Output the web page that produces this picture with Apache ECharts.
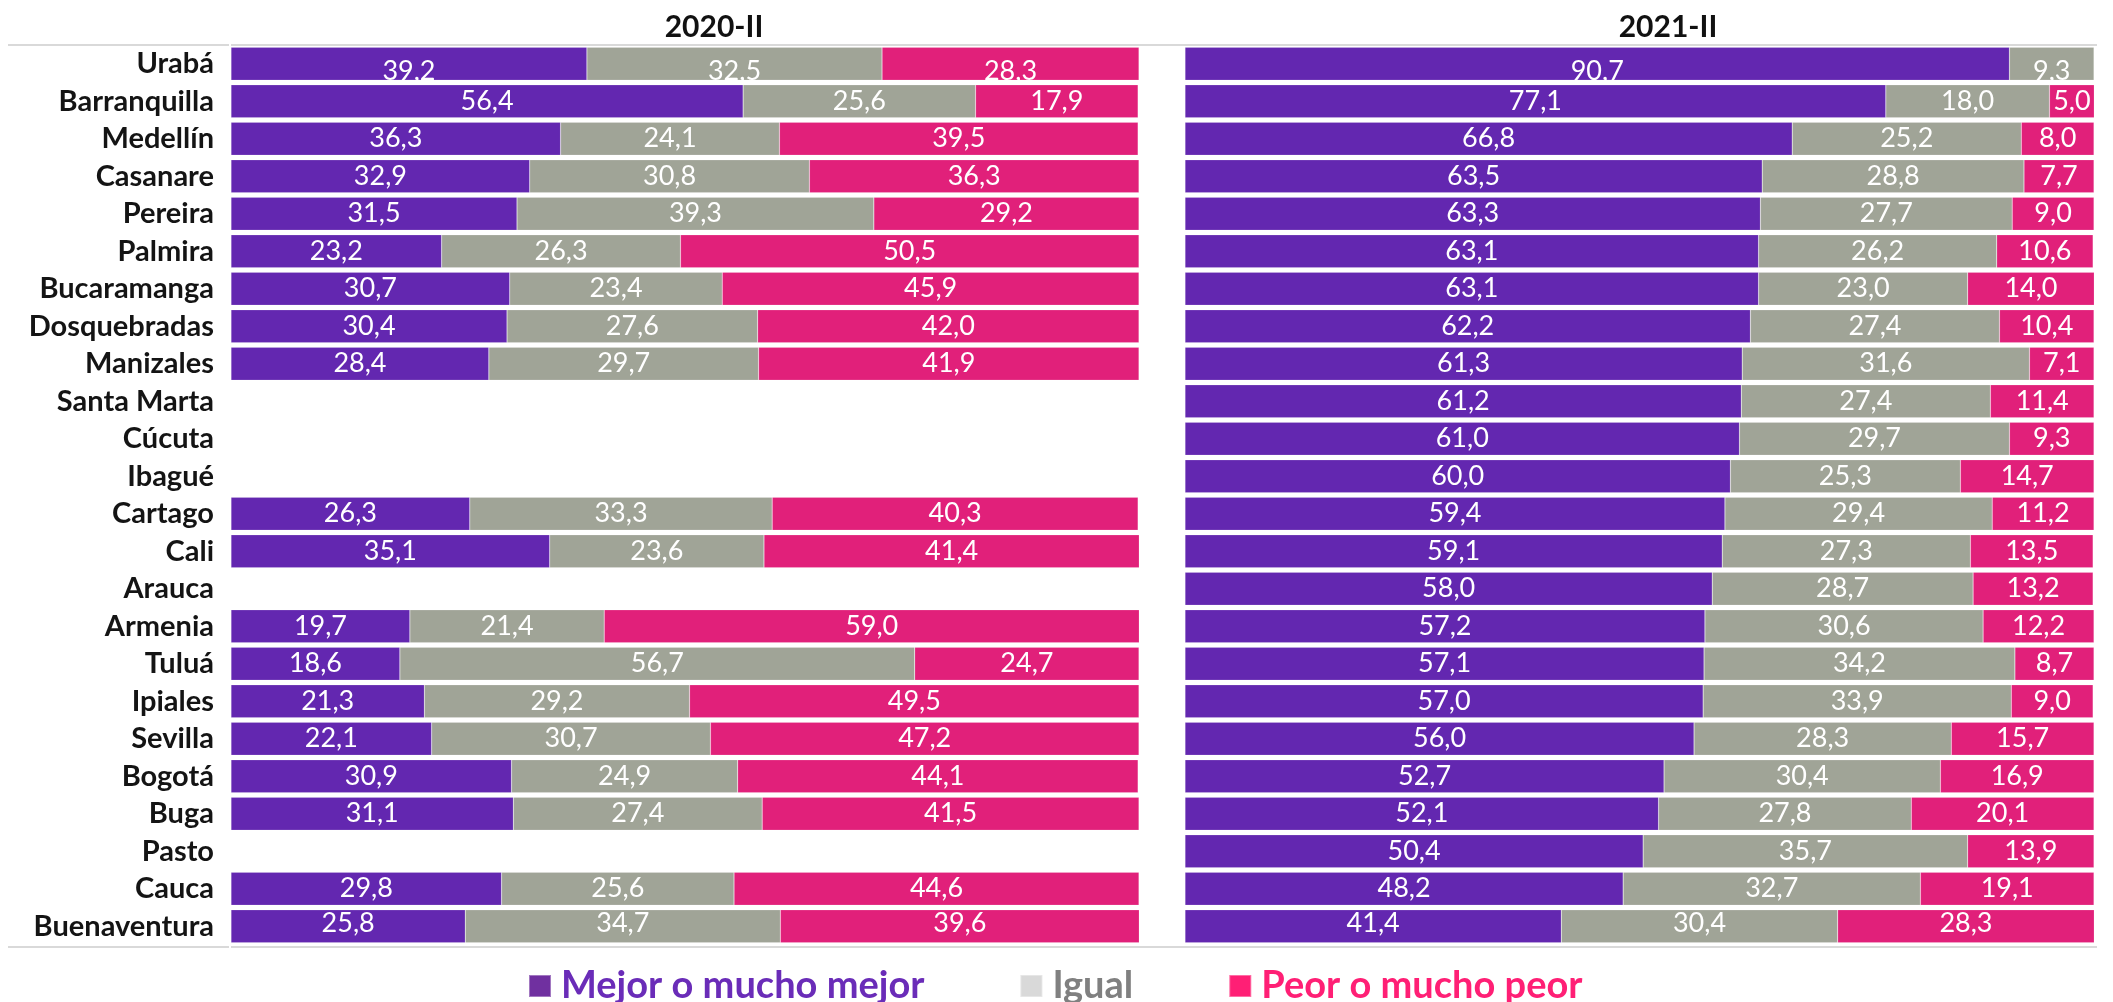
<!DOCTYPE html>
<html>
<head>
<meta charset="utf-8">
<script src="https://cdn.jsdelivr.net/npm/echarts@6/dist/echarts.min.js"></script>
<style>
html,body{margin:0;padding:0;background:#fff;}
#chart{width:2113px;height:1002px;}
</style>
</head>
<body>
<div id="chart"></div>
<script>
const categories = ['Urabá','Barranquilla','Medellín','Casanare','Pereira','Palmira','Bucaramanga','Dosquebradas','Manizales','Santa Marta','Cúcuta','Ibagué','Cartago','Cali','Arauca','Armenia','Tuluá','Ipiales','Sevilla','Bogotá','Buga','Pasto','Cauca','Buenaventura'];
const panelTitles = ['2020-II','2021-II'];
const seriesNames = ['Mejor o mucho mejor','Igual','Peor o mucho peor'];

const mejor2020 = [39.2,56.4,36.3,32.9,31.5,23.2,30.7,30.4,28.4,null,null,null,26.3,35.1,null,19.7,18.6,21.3,22.1,30.9,31.1,null,29.8,25.8];
const igual2020 = [32.5,25.6,24.1,30.8,39.3,26.3,23.4,27.6,29.7,null,null,null,33.3,23.6,null,21.4,56.7,29.2,30.7,24.9,27.4,null,25.6,34.7];
const peor2020  = [28.3,17.9,39.5,36.3,29.2,50.5,45.9,42.0,41.9,null,null,null,40.3,41.4,null,59.0,24.7,49.5,47.2,44.1,41.5,null,44.6,39.6];

const mejor2021 = [90.7,77.1,66.8,63.5,63.3,63.1,63.1,62.2,61.3,61.2,61.0,60.0,59.4,59.1,58.0,57.2,57.1,57.0,56.0,52.7,52.1,50.4,48.2,41.4];
const igual2021 = [9.3,18.0,25.2,28.8,27.7,26.2,23.0,27.4,31.6,27.4,29.7,25.3,29.4,27.3,28.7,30.6,34.2,33.9,28.3,30.4,27.8,35.7,32.7,30.4];
const peor2021  = [null,5.0,8.0,7.7,9.0,10.6,14.0,10.4,7.1,11.4,9.3,14.7,11.2,13.5,13.2,12.2,8.7,9.0,15.7,16.9,20.1,13.9,19.1,28.3];

const barColors = ['#6327B0','#A0A497','#E1207A'];
const legendIconColors = ['#7030A0','#D9D9D9','#FF1F75'];
const legendTextColors = ['#6A2CB8','#808080','#FF1F75'];
const FONT = 'Lato';

function fmt(v){ return v == null ? '' : v.toFixed(1).replace('.', ','); }

function buildData(arr){
  return arr.map((v,i)=>{
    const item = {value: v};
    if (i === 0) item.label = {offset:[0,8]};
    if (i === arr.length-1) item.label = {offset:[0,-3]};
    return item;
  });
}

function mkSeries(name, arr, idx, colorIdx){
  return {
    name: name, type:'bar', stack:'s'+idx,
    xAxisIndex: idx, yAxisIndex: idx,
    barWidth: 33,
    data: buildData(arr),
    itemStyle:{color: barColors[colorIdx], borderColor:'rgba(255,255,255,0.35)', borderWidth:0.5},
    label:{show:true, position:'inside', color:'#fff', fontFamily:FONT, fontSize:27,
      formatter: p => fmt(p.value)},
    emphasis:{disabled:true}
  };
}

const gridL = {left:231, top:45, width:908, height:900};
const gridR = {left:1185, top:45, width:909, height:900};

const chart = echarts.init(document.getElementById('chart'));
chart.setOption({
  animation:false,
  title:[
    {text:panelTitles[0], left:709, top:7, textAlign:'center', textStyle:{fontFamily:FONT, fontWeight:'bold', fontSize:30, color:'#111'}},
    {text:panelTitles[1], left:1663, top:7, textAlign:'center', textStyle:{fontFamily:FONT, fontWeight:'bold', fontSize:30, color:'#111'}}
  ],
  grid:[gridL, gridR],
  xAxis:[
    {type:'value', gridIndex:0, min:0, max:100, show:false},
    {type:'value', gridIndex:1, min:0, max:100, show:false}
  ],
  yAxis:[
    {type:'category', gridIndex:0, data:categories, inverse:true,
      axisLine:{show:false}, axisTick:{show:false}, splitLine:{show:false},
      axisLabel:{interval:0, margin:17, fontFamily:FONT, fontWeight:'bold', fontSize:29, color:'#141414'}},
    {type:'category', gridIndex:1, data:categories, inverse:true, show:false}
  ],
  legend:{
    left:523, top:962, itemWidth:22, itemHeight:22, itemGap:95, icon:'rect',
    textStyle:{fontFamily:FONT, fontWeight:'bold', fontSize:38, padding:[0,0,0,5]},
    data: seriesNames.map((n,i)=>({name:n, itemStyle:{color:legendIconColors[i]}, textStyle:{color:legendTextColors[i]}}))
  },
  graphic:[
    {type:'rect', shape:{x:8, y:44, width:221, height:2}, style:{fill:'#D9D9D9'}},
    {type:'rect', shape:{x:231, y:44, width:1866, height:2}, style:{fill:'#D9D9D9'}},
    {type:'rect', shape:{x:8, y:946, width:221, height:2}, style:{fill:'#D9D9D9'}},
    {type:'rect', shape:{x:231, y:946, width:1866, height:2}, style:{fill:'#D9D9D9'}}
  ],
  series:[
    mkSeries(seriesNames[0], mejor2020, 0, 0),
    mkSeries(seriesNames[1], igual2020, 0, 1),
    mkSeries(seriesNames[2], peor2020, 0, 2),
    mkSeries(seriesNames[0], mejor2021, 1, 0),
    mkSeries(seriesNames[1], igual2021, 1, 1),
    mkSeries(seriesNames[2], peor2021, 1, 2)
  ]
});
</script>
</body>
</html>
